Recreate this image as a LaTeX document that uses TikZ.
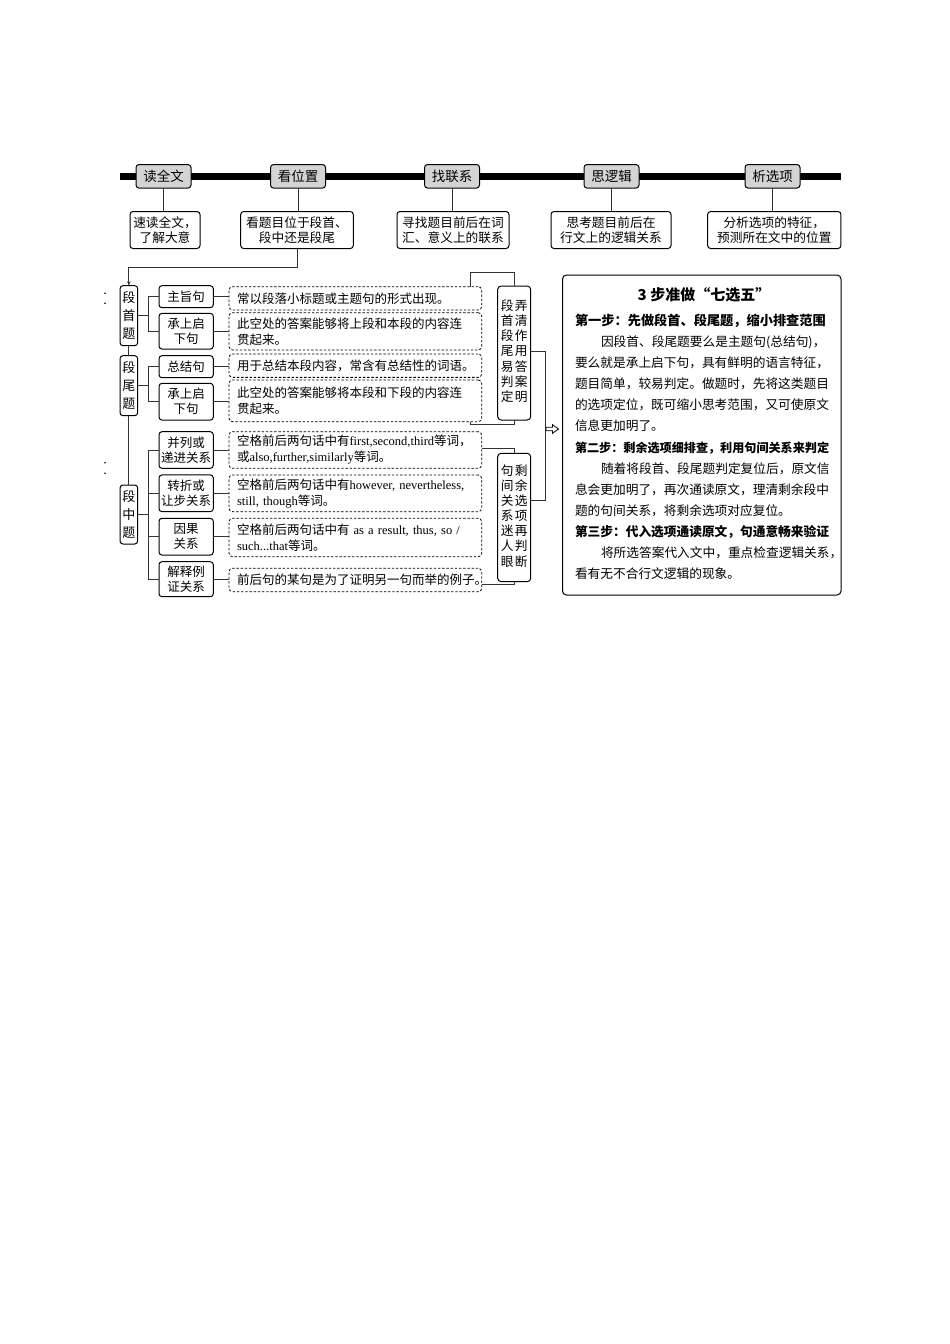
\documentclass[tikz,border=0pt]{standalone}
\usepackage{fontspec}
\setmainfont{Noto Sans CJK SC}
\newfontfamily\lat{Liberation Serif}
\usetikzlibrary{arrows.meta,calc}
\begin{document}
\begin{tikzpicture}[x=1pt,y=-1pt,
 every node/.style={inner sep=0pt, outer sep=0pt},
 topbox/.style={draw, line width=1pt, fill=black!17, rounded corners=3pt, minimum width=55pt, minimum height=23.5pt, font=\fontsize{13.5}{15}\selectfont},
 descbox/.style={draw, line width=1pt, fill=white, rounded corners=3pt, minimum height=37pt, align=center, font=\fontsize{12.7}{15}\selectfont},
 treebox/.style={draw, line width=1pt, fill=white, rounded corners=3pt, align=center, font=\fontsize{12.5}{15}\selectfont, minimum width=54.3pt},
 colbox/.style={draw, line width=1pt, fill=white, rounded corners=3pt, align=center, font=\fontsize{13}{18}\selectfont, minimum width=17.7pt, minimum height=60pt},
 dbox/.style={draw, line width=0.8pt, dash pattern=on 2.4pt off 1.8pt, rounded corners=3.5pt, text width=236.7pt, inner xsep=8pt, align=left, font=\fontsize{12.5}{16}\selectfont},
 vbox/.style={draw, line width=1pt, fill=white, rounded corners=3.5pt, minimum width=33pt, font=\fontsize{12.7}{15}\selectfont},
 link/.style={line width=0.85pt, draw=black!80},
 bl/.style={anchor=base west, font=\fontsize{12.7}{15}\selectfont},
 bh/.style={anchor=base west, font=\fontsize{13.2}{15}\selectfont\bfseries},
]
\useasboundingbox (0,0) rectangle (950,1344);

% timeline
\draw[line width=6.5pt] (120,176.5) coordinate (tl0) -- (841,176.5) coordinate (tl1);

% top boxes
\node[topbox] (k1) at (163.5,176.3) {读全文};
\node[topbox] (k2) at (298,176.3) {看位置};
\node[topbox] (k3) at (452,176.3) {找联系};
\node[topbox] (k4) at (611.5,176.3) {思逻辑};
\node[topbox] (k5) at (772.5,176.3) {析选项};

% description boxes
\node[descbox, minimum width=70pt] (s1) at (165,230) {速读全文，\\了解大意};
\node[descbox, minimum width=112.6pt] (s2) at (297,230) {看题目位于段首、\\段中还是段尾};
\node[descbox, minimum width=112pt] (s3) at (453,230) {寻找题目前后在词\\汇、意义上的联系};
\node[descbox, minimum width=120pt] (s4) at (611,230) {思考题目前后在\\行文上的逻辑关系};
\node[descbox, minimum width=133.3pt] (s5) at (774.3,230) {分析选项的特征，\\预测所在文中的位置};

\foreach \i in {1,...,5}{\draw[link] (k\i.south) -- (k\i.south |- s\i.north);}

% left column
\node[colbox] (shou) at (128.85,315.7) {段\\首\\题};
\node[colbox] (wei) at (128.85,385.7) {段\\尾\\题};
\node[colbox, minimum height=59pt] (zhong) at (128.85,514.5) {段\\中\\题};

\draw[link, -{Stealth[length=4.5pt,width=3.5pt]}] (s2.south) -- ++(0,18.5) -| (shou.north);
\draw[link] (shou.south) -- (wei.north);
\draw[link] (wei.south) -- (zhong.north);

% second level
\node[treebox, minimum height=22pt] (a1) at (186.15,296.7) {主旨句};
\node[treebox, minimum height=35.7pt] (a2) at (186.15,331.2) {承上启\\下句};
\node[treebox, minimum height=22pt] (a3) at (186.15,366.7) {总结句};
\node[treebox, minimum height=36.7pt] (a4) at (186.15,401.7) {承上启\\下句};
\node[treebox, minimum height=36.6pt] (a5) at (186.15,450) {并列或\\递进关系};
\node[treebox, minimum height=36.7pt] (a6) at (186.15,493.3) {转折或\\让步关系};
\node[treebox, minimum height=36.7pt] (a7) at (186.15,536.7) {因果\\关系};
\node[treebox, minimum height=35pt] (a8) at (186.15,579.2) {解释例\\证关系};

\draw[link] (a1.west) -- ++(-10.7,0) coordinate (b1) |- (a2.west);
\draw[link] (shou.east) -- (shou.east -| b1);
\draw[link] (a3.west) -- ++(-10.7,0) coordinate (b2) |- (a4.west);
\draw[link] (wei.east) -- (wei.east -| b2);
\draw[link] (a5.west) -- ++(-10.7,0) coordinate (b3) |- (a8.west);
\draw[link] (a6.west) -- (a6.west -| b3);
\draw[link] (a7.west) -- (a7.west -| b3);
\draw[link] (zhong.east) -- (zhong.east -| b3);

% dashed boxes
\node[dbox, minimum height=23.3pt] (d1) at (355.35,298.3) {\mbox{常以段落小标题或主题句的形式出现。}};
\node[dbox, minimum height=37.3pt] (d2) at (355.35,331.3) {\mbox{此空处的答案能够将上段和本段的内容连}\\\mbox{贯起来。}};
\node[dbox, minimum height=23.3pt] (d3) at (355.35,365.7) {\mbox{用于总结本段内容，常含有总结性的词语。}};
\node[dbox, minimum height=41.7pt] (d4) at (355.35,400.8) {\mbox{此空处的答案能够将本段和下段的内容连}\\\mbox{贯起来。}};
\node[dbox, minimum height=36.6pt] (d5) at (355.35,450) {\mbox{空格前后两句话中有{\lat first,second,third}等词，}\\\mbox{或{\lat also,further,similarly}等词。}};
\node[dbox, minimum height=36.7pt] (d6) at (355.35,493.3) {\mbox{空格前后两句话中有{\lat however, nevertheless,}}\\\mbox{{\lat still, though}等词。}};
\node[dbox, minimum height=38.4pt] (d7) at (355.35,537.5) {\mbox{空格前后两句话中有 {\lat as a result, thus, so /}}\\\mbox{{\lat such...that}等词。}};
\node[dbox, minimum height=23.4pt] (d8) at (355.35,580) {\mbox{前后句的某句是为了证明另一句而举的例子。}};

\foreach \i in {1,...,8}{\draw[link] (a\i.east) -- (a\i.east -| d\i.west);}

% vertical summary boxes
\node[vbox, minimum height=134pt] (v1) at (514.2,353) {\begin{tabular}{@{}c@{\hspace{1.5pt}}c@{}}段&弄\\首&清\\段&作\\尾&用\\易&答\\判&案\\定&明\end{tabular}};
\node[vbox, minimum height=128.4pt] (v2) at (514.2,517.5) {\begin{tabular}{@{}c@{\hspace{1.5pt}}c@{}}句&剩\\间&余\\关&选\\系&项\\迷&再\\人&判\\眼&断\end{tabular}};

\draw[link] ([xshift=114.65pt]d1.north) |- ([yshift=14pt]v1.north) -- (v1.north);
\draw[link] ([xshift=114.65pt]d4.south) |- ([yshift=-4pt]v1.south) -- (v1.south);
\draw[link] ([yshift=1.7pt]d5.east) -| (v2.north);
\draw[link] ([yshift=-4pt]d8.east) -| (v2.south);
\draw[link] ([yshift=1.3pt]v1.east) -- ++(14.5,0) coordinate (r1) |- ([yshift=17.5pt]v2.east);

% open arrow
\draw[line width=0.8pt, fill=white] (546,427.2) -- (552.5,427.2) -- (552.5,424.7) -- (558.5,429) -- (552.5,433.3) -- (552.5,430.8) -- (546,430.8) -- cycle;

% big box
\node[draw, line width=1pt, rounded corners=4pt, minimum width=278.5pt, minimum height=320pt] (big) at (701.75,435) {};
\node[font=\fontsize{15}{18}\selectfont\bfseries] (title) at (704,295) {3 步准做“七选五”};

\node[bh] (t1) at (575,325.8) {第一步：先做段首、段尾题，缩小排查范围};
\node[bl] (t2) at (601,346.8) {因段首、段尾题要么是主题句(总结句)，};
\node[bl] (t3) at (575,367.8) {要么就是承上启下句，具有鲜明的语言特征，};
\node[bl] (t4) at (575,388.8) {题目简单，较易判定。做题时，先将这类题目};
\node[bl] (t5) at (575,409.8) {的选项定位，既可缩小思考范围，又可使原文};
\node[bl] (t6) at (575,430.8) {信息更加明了。};
\node[bh, font=\fontsize{12.1}{15}\selectfont\bfseries] (t7) at (575,452.3) {第二步：剩余选项细排查，利用句间关系来判定};
\node[bl] (t8) at (601,473.3) {随着将段首、段尾题判定复位后，原文信};
\node[bl] (t9) at (575,494.3) {息会更加明了，再次通读原文，理清剩余段中};
\node[bl] (t10) at (575,515.3) {题的句间关系，将剩余选项对应复位。};
\node[bh, font=\fontsize{12.7}{15}\selectfont\bfseries] (t11) at (575,536.3) {第三步：代入选项通读原文，句通意畅来验证};
\node[bl] (t12) at (601,557.3) {将所选答案代入文中，重点检查逻辑关系，};
\node[bl] (t13) at (575,578.3) {看有无不合行文逻辑的现象。};

% small marks at left
\fill (105,293.3) circle (0.9);
\fill (105,303.3) circle (0.9);
\fill (105,462.7) circle (0.9);
\fill (105,473.3) circle (0.9);
\end{tikzpicture}
\end{document}
